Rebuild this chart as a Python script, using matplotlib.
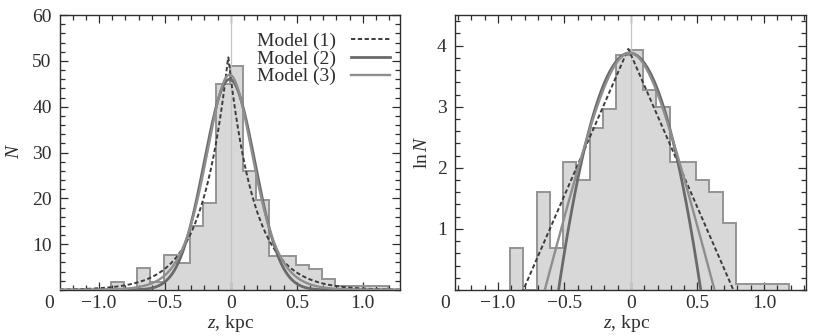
import numpy as np
import matplotlib
matplotlib.use('Agg')
import matplotlib.pyplot as plt
from matplotlib.ticker import MultipleLocator, FixedLocator

plt.rcParams['font.family'] = ['Liberation Serif', 'DejaVu Serif']
plt.rcParams['mathtext.fontset'] = 'custom'
plt.rcParams['mathtext.rm'] = 'Liberation Serif'
plt.rcParams['mathtext.it'] = 'Liberation Serif:italic'
plt.rcParams['font.size'] = 14

# histogram bins (kpc) and heights
bin_edges = [-0.91, -0.81, -0.71, -0.61, -0.51, -0.41, -0.31, -0.21, -0.11, -0.01,
             0.09, 0.19, 0.29, 0.39, 0.49, 0.59, 0.69, 0.79, 0.89, 0.99, 1.09, 1.19]
counts_N = [1.7, 0, 4.7, 1.8, 7.7, 5.8, 13.9, 19, 45, 49,
            26, 19.7, 7.5, 7.5, 5.5, 4.5, 2.5, 0.8, 0.8, 0.8, 0.8]
counts_lnN = [0.69, 0, 1.61, 0.69, 2.09, 1.8, 2.66, 2.96, 3.84, 3.93,
              3.28, 3.0, 2.09, 2.09, 1.8, 1.6, 1.1, 0.09, 0.09, 0.09, 0.09]

# model parameters (amplitude, centre, scale) estimated from the curves
labels = ['Model (1)', 'Model (2)', 'Model (3)']
amp_N = [51, 46, 47]
amp_lnN = [3.95, 3.88, 3.88]
center = [-0.02, -0.01, -0.01]
scale = [0.2, 0.192, 0.243]   # exp. scale height, gaussian sigma, sech^2 scale

xt = [-1.0, -0.5, 0, 0.5, 1.0]
xt_lab = ['\u22121.0', '\u22120.5', '0', '0.5', '1.0']


def model(k, z):
    u = z - center[k]
    if k == 0:
        return np.exp(-np.abs(u) / scale[k])
    if k == 1:
        return np.exp(-u**2 / (2 * scale[k]**2))
    return 1.0 / np.cosh(u / scale[k])**2


styles = [dict(color='#3c3c3c', lw=1.4, ls=(0, (2.2, 1.3))),
          dict(color='#6a6a6a', lw=2.0, ls='-'),
          dict(color='#8e8e8e', lw=1.7, ls='-')]

fig = plt.figure(figsize=(8.17, 3.36), dpi=100)
ax1 = fig.add_axes([0.0734, 0.137, 0.416, 0.818])
ax2 = fig.add_axes([0.557, 0.137, 0.429, 0.818])

z = np.linspace(-1.35, 1.35, 1200)
ink = '#2e2e2e'

for ax, vals, amps, log in [(ax1, counts_N, amp_N, False), (ax2, counts_lnN, amp_lnN, True)]:
    ax.stairs(vals, bin_edges, fill=True, color='#d8d8d8', zorder=1)
    ax.stairs(vals, bin_edges, baseline=0, color='#949494', lw=1.4, zorder=2)
    ax.axvline(0, color='#c4c4c4', lw=0.9, zorder=2)
    for k in range(3):
        if log:
            y = amps[k] + np.log(model(k, z))
        else:
            y = amps[k] * model(k, z)
        ax.plot(z, y, label=labels[k], zorder=3, **styles[k])
    ax.set_xticks(xt)
    ax.set_xticklabels(xt_lab)
    ax.xaxis.set_minor_locator(MultipleLocator(0.1))
    ax.tick_params(which='both', direction='in', top=True, right=True,
                   color=ink, labelcolor=ink, width=0.9)
    ax.tick_params(which='major', length=6)
    ax.tick_params(which='minor', length=3.5)
    ax.tick_params(axis='x', pad=3.5)
    ax.tick_params(axis='y', pad=6)
    for s in ax.spines.values():
        s.set_color(ink)
        s.set_linewidth(1.0)
    ax.set_xlabel('$z$, kpc', color=ink)

ax1.set_xlim(-1.295, 1.28)
ax1.set_ylim(0, 60)
ax1.yaxis.set_major_locator(FixedLocator([10, 20, 30, 40, 50, 60]))
ax1.yaxis.set_minor_locator(MultipleLocator(2))
ax1.set_ylabel('$N$', color=ink)
ax1.yaxis.set_label_coords(-0.11, 0.505)
ax1.xaxis.set_label_coords(0.503, -0.085)
ax1.text(-0.031, -0.02, '0', transform=ax1.transAxes, ha='center', va='top', color=ink)

ax2.set_xlim(-1.323, 1.313)
ax2.set_ylim(0, 4.5)
ax2.yaxis.set_major_locator(FixedLocator([1, 2, 3, 4]))
ax2.yaxis.set_minor_locator(MultipleLocator(0.2))
ax2.set_ylabel('ln$\\,N$', color=ink)
ax2.yaxis.set_label_coords(-0.07, 0.5)
ax2.xaxis.set_label_coords(0.49, -0.085)
ax2.text(-0.029, -0.02, '0', transform=ax2.transAxes, ha='center', va='top', color=ink)

ax1.legend(loc='upper right', bbox_to_anchor=(0.971, 0.937), frameon=False,
           markerfirst=False, handlelength=2.0, handletextpad=0.8,
           labelspacing=0.0, borderpad=0, borderaxespad=0, fontsize=14,
           labelcolor=ink)

fig.savefig('out.png', dpi=100)
